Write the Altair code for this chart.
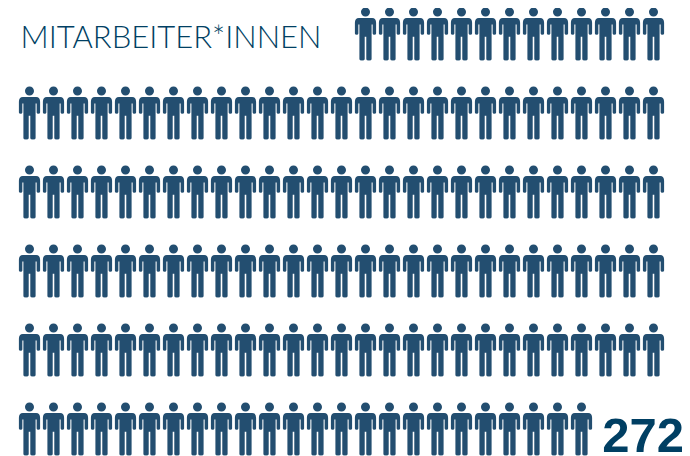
import altair as alt
import pandas as pd

TITLE = "MITARBEITER*INNEN"
TOTAL = "272"
ROW_COUNTS = [13, 27, 27, 27, 27, 24]
ROW_STARTS = [15, 1, 1, 1, 1, 1]
NAVY = "#234e70"
TEXT = "#003f63"

# person icon, drawn in a -1..1 box
PERSON = ("M0,-1 A0.17,0.17 0 1 1 0,-0.66 A0.17,0.17 0 1 1 0,-1 Z "
          "M-0.25,-0.6 L0.25,-0.6 Q0.4,-0.6 0.4,-0.42 L0.4,-0.02 "
          "Q0.4,0.03 0.33,0.03 Q0.27,0.03 0.27,-0.02 L0.27,-0.36 L0.23,-0.36 "
          "L0.23,0.95 Q0.23,1 0.13,1 Q0.03,1 0.03,0.95 L0.03,0.1 L-0.03,0.1 "
          "L-0.03,0.95 Q-0.03,1 -0.13,1 Q-0.23,1 -0.23,0.95 L-0.23,-0.36 L-0.27,-0.36 "
          "L-0.27,-0.02 Q-0.27,0.03 -0.33,0.03 Q-0.4,0.03 -0.4,-0.02 L-0.4,-0.42 "
          "Q-0.4,-0.6 -0.25,-0.6 Z")

rows = []
for r, (n, s) in enumerate(zip(ROW_COUNTS, ROW_STARTS)):
    for c in range(n):
        rows.append({"col": s + c, "row": r})
df = pd.DataFrame(rows)

W, H = 674, 448
x = alt.X("col:Q", axis=None, scale=alt.Scale(domain=[1 - 21.5 / 24, 1 + (W - 21.5) / 24], range=[0, W], nice=False, zero=False))
y = alt.Y("row:Q", axis=None, scale=alt.Scale(domain=[-26 / 79, (H - 26) / 79], range=[0, H], nice=False, zero=False))

people = alt.Chart(df).mark_point(shape=PERSON, filled=True, fill=NAVY, stroke=None, opacity=1, size=2809).encode(x=x, y=y)
title = alt.Chart(pd.DataFrame({"t": [TITLE]})).mark_text(
    font="Lato", fontWeight=300, fontSize=31, color=TEXT, align="left", baseline="alphabetic"
).encode(x=alt.value(12.5), y=alt.value(39.5), text="t:N")
total = alt.Chart(pd.DataFrame({"t": [TOTAL]})).mark_text(
    font="Liberation Sans", fontWeight="bold", fontSize=49, color=TEXT, align="right", baseline="alphabetic"
).encode(x=alt.value(676), y=alt.value(444), text="t:N")

chart = (people + title + total).properties(
    width=W, height=H, padding=0, autosize=alt.AutoSizeParams(type="none"), background="white"
).configure_view(stroke=None)
chart.save("out.html", embed_options={"renderer": "svg", "actions": False})
